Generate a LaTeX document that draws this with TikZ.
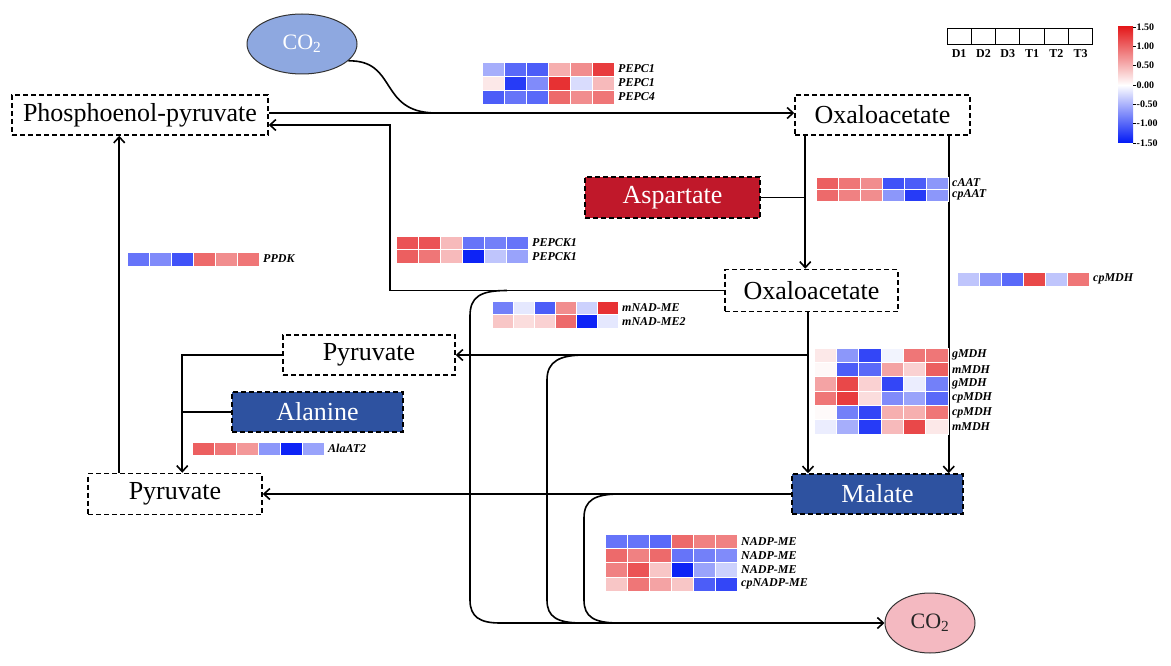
\documentclass[tikz,border=0pt]{standalone}
\usepackage{fontspec}
\setmainfont{Liberation Serif}
\usetikzlibrary{arrows.meta,calc,shapes.geometric}
\definecolor{hmr}{RGB}{228,26,28}
\definecolor{hmb}{RGB}{0,24,245}
\definecolor{co2blue}{RGB}{142,168,224}
\definecolor{co2pink}{RGB}{244,185,193}
\definecolor{boxblue}{RGB}{46,82,160}
\definecolor{boxred}{RGB}{192,24,42}
\tikzset{
  met/.style={draw=black, dashed, dash pattern=on 5pt off 3pt, line width=1.5pt, inner sep=0pt,
    font=\fontsize{26}{30}\selectfont},
  metf/.style={met, text=white},
  ln/.style={line width=1.6pt, black},
  gl/.style={anchor=west, inner sep=0pt, font=\fontsize{12}{14}\selectfont\bfseries\itshape},
  lg/.style={inner sep=0pt, font=\fontsize{12}{14}\selectfont\bfseries},
  cbl/.style={anchor=west, inner sep=0pt, font=\fontsize{10}{12}\selectfont\bfseries},
  co2/.style={ellipse, draw=black!80, line width=1pt, inner sep=0pt, font=\fontsize{22}{26}\selectfont},
}
\newcommand\hmrow[7]{%
  \foreach \v [count=\i from 0] in {#5}{%
    \pgfmathtruncatemacro\hmA{abs(\v)}%
    \ifdim \v pt<0pt \colorlet{hmc}{hmb!\hmA!white}\else\colorlet{hmc}{hmr!\hmA!white}\fi
    \fill[hmc] (#1+\i*#3,#2) rectangle ++(#3,#4);
    \draw[white, line width=0.6pt] (#1+\i*#3,#2) rectangle ++(#3,#4);
  }%
  \node[gl] (#7) at (#1+6*#3+4,#2+#4/2) {#6};%
}
\begin{document}
\begin{tikzpicture}[x=1pt,y=-1pt,>={Straight Barb[length=6pt,width=11pt]}]
\useasboundingbox (0,0) rectangle (1171,666);

% nodes
\node[co2, fill=co2blue, text=white, minimum width=110, minimum height=60] (co2t) at (302,44) {CO\textsubscript{2}};
\node[co2, fill=co2pink, text=black!85, minimum width=90, minimum height=60] (co2b) at (930,623) {CO\textsubscript{2}};
\node[met, minimum width=256, minimum height=40] (pep) at (140,115) {Phosphoenol-pyruvate};
\node[met, minimum width=175, minimum height=40] (oxt) at (882.5,115) {Oxaloacetate};
\node[met, minimum width=173, minimum height=42] (oxm) at (811.5,290.5) {Oxaloacetate};
\node[metf, fill=boxred, minimum width=175, minimum height=41] (asp) at (672.5,197.5) {Aspartate};
\node[met, minimum width=172, minimum height=40] (pyu) at (369,355) {Pyruvate};
\node[met, minimum width=174, minimum height=41] (pyl) at (175,494) {Pyruvate};
\node[metf, fill=boxblue, minimum width=171, minimum height=40] (ala) at (317.5,412) {Alanine};
\node[metf, fill=boxblue, minimum width=171, minimum height=40] (mal) at (877.5,494) {Malate};

% connectors
\draw[ln,->] ([yshift=2pt]pep.east) -- ([yshift=2pt]oxt.west);
\coordinate (j1) at (435,113);
\draw[ln] (co2t.-20) .. controls (398,60) and (378,112) .. (j1);
\coordinate (k1) at (390,125);
\draw[ln,->] (oxm.west) -| (k1) -- ([yshift=-10pt]pep.east);

\coordinate (v1) at ([xshift=11pt]oxt.south west);
\draw[ln,->] (v1) -- (v1 |- oxm.north);
\draw[ln] (asp.east) -- (asp.east -| v1);
\coordinate (v2) at ([xshift=-22pt]oxt.south east);
\draw[ln,->] (v2) -- (v2 |- mal.north);
\coordinate (v3) at ([xshift=-3.5pt]oxm.south);
\draw[ln,->] (v3) -- (v3 |- mal.north);
\draw[ln,->] (v3 |- pyu.east) -- (pyu.east);
\draw[ln,->] (mal.west) -- (pyl.east);

\coordinate (v4) at ([xshift=95pt]pyl.north west);
\draw[ln,->] (pyu.west) -| (v4);
\draw[ln] (ala.west) -- (ala.west -| v4);
\coordinate (v5) at ([xshift=32pt]pyl.north west);
\draw[ln,->] (v5) -- (v5 |- pep.south);

% branches to CO2
\coordinate (b0) at (500,623);
\draw[ln,->] (b0) -- (co2b.west);
\draw[ln] (507,290.5) .. controls (480,290.5) and (470,297) .. (470,316) -- (470,600)
  .. controls (470,617) and (480,623) .. (b0);
\draw[ln] (585,355) .. controls (560,355) and (547,361) .. (547,380) -- (547,600)
  .. controls (547,617) and (557,623) .. (582,623);
\draw[ln] (620,494) .. controls (595,494) and (584,500) .. (584,518) -- (584,600)
  .. controls (584,617) and (594,623) .. (619,623);

% heatmaps
\hmrow{482}{62}{22}{14}{-35,-65,-70,35,50,85}{PEPC1}{g1}
\hmrow{482}{76}{22}{14}{10,-85,-50,90,-15,30}{PEPC1}{g2}
\hmrow{482}{90}{22}{14}{-70,-60,-65,65,50,60}{PEPC4}{g3}

\hmrow{816}{177}{22}{12}{70,60,50,-75,-70,-45}{cAAT}{g4}
\hmrow{816}{189}{22}{12}{65,55,50,-45,-85,-45}{cpAAT}{g5}

\hmrow{396}{236}{22}{13.5}{75,75,30,-60,-55,-60}{PEPCK1}{g6}
\hmrow{396}{249.5}{22}{13.5}{70,60,30,-95,-25,-40}{PEPCK1}{g7}

\hmrow{127}{252}{22}{14}{-60,-50,-75,65,50,60}{PPDK}{g8}

\hmrow{957}{272}{22}{14}{-25,-45,-65,80,-25,60}{cpMDH}{g9}

\hmrow{492}{301}{21}{13.5}{-55,-10,-70,50,-20,90}{mNAD-ME}{g10}
\hmrow{492}{314.5}{21}{13.5}{25,15,20,65,-95,-10}{mNAD-ME2}{g11}

\hmrow{814}{348}{22.3}{14.3}{10,-45,-80,-5,60,60}{gMDH}{g12}
\hmrow{814}{362.3}{22.3}{14.3}{3,-70,-65,40,20,70}{mMDH}{g13}
\hmrow{814}{376.6}{22.3}{14.3}{40,80,20,-80,-8,-55}{gMDH}{g14}
\hmrow{814}{390.9}{22.3}{14.3}{60,85,15,-50,-40,-65}{cpMDH}{g15}
\hmrow{814}{405.2}{22.3}{14.3}{2,-55,-80,35,35,60}{cpMDH}{g16}
\hmrow{814}{419.5}{22.3}{14.3}{-8,-35,-85,30,80,10}{mMDH}{g17}

\hmrow{192}{442}{22}{13}{70,60,45,-45,-95,-40}{AlaAT2}{g18}

\hmrow{605}{534}{22}{14.3}{-60,-60,-65,65,55,55}{NADP-ME}{g19}
\hmrow{605}{548.3}{22}{14.3}{65,55,65,-60,-55,-50}{NADP-ME}{g20}
\hmrow{605}{562.6}{22}{14.3}{55,75,25,-95,-40,-20}{NADP-ME}{g21}
\hmrow{605}{576.9}{22}{14.3}{25,60,40,25,-70,-80}{cpNADP-ME}{g22}

% legend
\foreach \t [count=\i from 0] in {D1,D2,D3,T1,T2,T3}{
  \draw[line width=0.9pt] (947+\i*24.3,28) rectangle ++(24.3,16);
  \node[lg] (lg\t) at (947+\i*24.3+12.15,54) {\t};
}
\shade[top color=hmr, bottom color=hmb, middle color=white] (1118,27) rectangle (1133,143);
\foreach \lab/\yy/\nm in {1.50/27/a,1.00/46.3/b,0.50/65.7/c,0.00/85/d,-0.50/104.3/e,-1.00/123.7/f,-1.50/143/g}{
  \draw[line width=0.6pt] (1133,\yy) -- ++(2.5,0);
  \node[cbl] (cb\nm) at (1136.5,\yy) {\lab};
}
\end{tikzpicture}
\end{document}
